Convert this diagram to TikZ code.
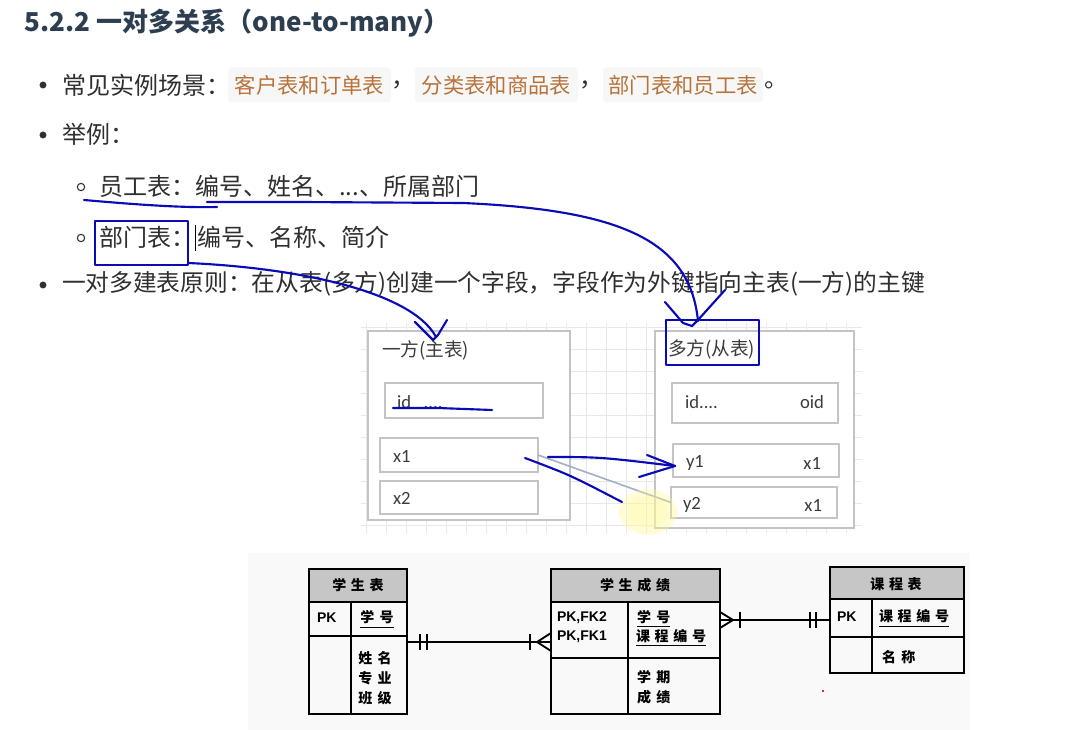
\documentclass[tikz,border=0pt]{standalone}
\usepackage{fontspec}
\setmainfont{Noto Sans CJK SC}
\newfontfamily\calfont{Carlito}
\newfontfamily\arialfont{Liberation Sans}
\usetikzlibrary{fit}
\definecolor{titlec}{HTML}{2C3E50}
\definecolor{bodyc}{HTML}{2F2F2F}
\definecolor{codec}{HTML}{B8733A}
\definecolor{codebg}{HTML}{F7F7F7}
\definecolor{penc}{HTML}{0A0AB8}
\definecolor{midc}{HTML}{3C3C3C}
\definecolor{hdr}{HTML}{C6C6C6}
\definecolor{gridc}{HTML}{E8E8E8}
\definecolor{boxc}{HTML}{C4C4C4}
\definecolor{linkc}{HTML}{9FB0C8}
\definecolor{erbg}{HTML}{F9F9F9}
\newcommand\fsz[1]{\fontsize{#1}{#1}\selectfont}
\begin{document}
\begin{tikzpicture}[x=0.75pt,y=-0.75pt,
 every node/.style={inner sep=0pt, outer sep=0pt},
 title/.style={anchor=west, font=\fsz{19.5pt}\bfseries, text=titlec},
 body/.style={anchor=west, font=\fsz{18pt}, text=bodyc},
 codebox/.style={anchor=west, font=\fsz{16pt}, text=codec, fill=codebg, rounded corners=2.5pt, minimum height=26.25pt},
 dot/.style={circle, fill=bodyc, minimum size=5.2pt},
 odot/.style={circle, draw=bodyc, line width=0.8pt, minimum size=5.5pt},
 pen/.style={draw=penc, line width=1.6pt, line cap=round, line join=round},
 obox/.style={draw=boxc, fill=white, line width=0.9pt},
 ibox/.style={draw=boxc, fill=white, line width=1.3pt},
 mcjk/.style={anchor=west, font=\fsz{14pt}, text=midc},
 mlat/.style={font=\calfont\fsz{14pt}, text=midc},
 tbl/.style={draw=black, line width=1.2pt},
 ercjk/.style={font=\fsz{10.5pt}\bfseries, text=black},
 erlat/.style={font=\arialfont\fsz{10.5pt}\bfseries, text=black, anchor=west},
 rel/.style={draw=black, line width=1.4pt},
 ul/.style={draw=black, line width=1pt}
]
\useasboundingbox[fill=white] (0,0) rectangle (1068,730);

% ---------- text part ----------
\node[title] (title) at (25,23) {5.2.2 一对多关系（one-to-many）};

\node[dot] (b1) at (43,85) {};
\node[body] (l1) at (62,85) {常见实例场景：};
\node[codebox, minimum width=122.25pt] (c1) at (228,85) {客户表和订单表};
\node[body] (k1) at (391,85) {，};
\node[codebox, minimum width=122.25pt] (c2) at (415,85) {分类表和商品表};
\node[body] (k2) at (579,85) {，};
\node[codebox, minimum width=120pt] (c3) at (603,85) {部门表和员工表};
\node[body] (k3) at (764,85) {。};

\node[dot] (b2) at (43,135) {};
\node[body] (l2) at (62,134) {举例：};

\node[odot] (o1) at (81,187) {};
\node[body] (l3) at (99,186) {员工表：编号、姓名、...、所属部门};
\node[odot] (o2) at (81,238) {};
\node[body] (l4) at (99,237) {部门表：};
\node[body] (l5) at (197,237) {编号、名称、简介};
\draw[black, line width=0.7pt] (195,225) -- (195,251);

\node[dot] (b3) at (43,285) {};
\node[body, font=\fsz{17.8pt}] (l6) at (62,284) {一对多建表原则：在从表(多方)创建一个字段，字段作为外键指向主表(一方)的主键};

% ---------- middle diagram ----------
\foreach \gx in {366,386,...,862} \draw[gridc, line width=0.5pt] (\gx,323) -- (\gx,533);
\foreach \gy in {327,349,...,533} \draw[gridc, line width=0.5pt] (361,\gy) -- (862,\gy);

\node[obox, fit={(368,331)(570,520)}] (one) {};
\node[obox, fit={(655,331)(854,528)}] (many) {};

\node[mcjk] (oneT) at (382,350) {一方(主表)};
\node[mcjk] (manyT) at (668,349) {多方(从表)};

\node[ibox, fit={(385,383)(543,418)}] (bid) {};
\node[ibox, fit={(380,438)(538,472)}] (bx1) {};
\node[ibox, fit={(380,481)(538,514)}] (bx2) {};
\node[ibox, fit={(672,383)(838,423)}] (bid2) {};
\node[ibox, fit={(673,444)(839,477)}] (by1) {};
\node[ibox, fit={(671,487)(837,518)}] (by2) {};

\node[mlat, anchor=west] (tid) at (397,402) {id\ \ \ ....};
\node[mlat, anchor=west] (tx1) at (393,456) {x1};
\node[mlat, anchor=west] (tx2) at (393,498) {x2};
\node[mlat, anchor=west] (tid2) at (685,402) {id....};
\node[mlat, anchor=east] (toid) at (824,402) {oid};
\node[mlat, anchor=west] (ty1) at (686,463) {y1};
\node[mlat, anchor=east] (tfx1) at (821,463) {x1};
\node[mlat, anchor=west] (ty2) at (683,505) {y2};
\node[mlat, anchor=east] (tfx2) at (822,505) {x1};

\draw[linkc, line width=1.2pt] (bx1.east) -- (by2.west);

\fill[yellow!45, opacity=0.35] (648,512) ellipse [x radius=22pt, y radius=17pt];
\fill[yellow!35, opacity=0.35] (648,512) ellipse [x radius=15pt, y radius=12pt];

% ---------- blue pen annotations ----------
\draw[pen] (84,200) .. controls (130,204) and (180,208) .. (217,207);
\draw[pen] (207,202) -- (300,202) -- (463,203) .. controls (620,210) and (690,240) .. (698,321);
\draw[pen] (665,302) -- (683,323) -- (692,326) -- (698,320) -- (725,290);

\draw[pen] (95,221) rectangle (188,265);
\draw[pen] (188,263) .. controls (300,268) and (412,292) .. (436,337);
\draw[pen] (415,322) -- (433,340) -- (438,335) -- (447,320);

\draw[pen] (666,320) rectangle (759,365);

\draw[pen] (393,408) -- (438,408) -- (492,410);

\draw[pen] (548,457) .. controls (600,457) .. (675,466);
\draw[pen] (647,455) -- (675,466) -- (639,477);
\draw[pen] (525,458) .. controls (570,475) .. (622,502);

% ---------- ER diagram ----------
\fill[erbg] (248,553) rectangle (970,730);

% 学生表
\fill[hdr] (309,569) rectangle (407,602);
\node[tbl, fit={(309,569)(407,714)}] (st) {};
\draw[tbl] (309,602) -- (407,602) (309,636) -- (407,636) (351,602) -- (351,714);
\node[ercjk] (sth) at (358,585) {学\hspace{3.5pt}生\hspace{3.5pt}表};
\node[erlat] (stpk) at (317,618) {PK};
\node[ercjk] (stk) at (377,617) {学\hspace{4pt}号};
\draw[ul] ([yshift=-3pt]stk.south west) -- ([yshift=-3pt]stk.south east);
\node[ercjk] (sta) at (375,658) {姓\hspace{4pt}名};
\node[ercjk] (stb) at (375,678) {专\hspace{4pt}业};
\node[ercjk] (stc) at (375,698) {班\hspace{4pt}级};

% 学生成绩
\fill[hdr] (551,569) rectangle (720,602);
\node[tbl, fit={(551,569)(720,714)}] (sc) {};
\draw[tbl] (551,602) -- (720,602) (551,658) -- (720,658) (628,602) -- (628,714);
\node[ercjk] (sch) at (635,585) {学\hspace{3.5pt}生\hspace{3.5pt}成\hspace{3.5pt}绩};
\node[erlat] (scp1) at (557,618) {PK,FK2};
\node[erlat] (scp2) at (557,637) {PK,FK1};
\node[ercjk, anchor=west] (sck1) at (637,617) {学\hspace{4pt}号};
\draw[ul] ([yshift=-2pt]sck1.south west) -- ([yshift=-2pt]sck1.south east);
\node[ercjk, anchor=west] (sck2) at (636,636) {课\hspace{3.5pt}程\hspace{3.5pt}编\hspace{3.5pt}号};
\draw[ul] ([yshift=-2pt]sck2.south west) -- ([yshift=-2pt]sck2.south east);
\node[ercjk, anchor=west] (sca) at (637,677) {学\hspace{4pt}期};
\node[ercjk, anchor=west] (scb) at (637,697) {成\hspace{4pt}绩};

% 课程表
\fill[hdr] (830,567) rectangle (964,599);
\node[tbl, fit={(830,567)(964,673)}] (ct) {};
\draw[tbl] (830,599) -- (964,599) (830,637) -- (964,637) (872,599) -- (872,673);
\node[ercjk] (cth) at (896,584) {课\hspace{3.5pt}程\hspace{3.5pt}表};
\node[erlat] (ctpk) at (837,617) {PK};
\node[ercjk, anchor=west] (ctk) at (879,616) {课\hspace{3.5pt}程\hspace{3.5pt}编\hspace{3.5pt}号};
\draw[ul] ([yshift=-3pt]ctk.south west) -- ([yshift=-3pt]ctk.south east);
\node[ercjk, anchor=west] (cta) at (882,657) {名\hspace{4pt}称};

% relationships
\coordinate (e1) at (407,642);
\coordinate (e2) at (551,642);
\draw[rel] (e1) -- (e2);
\draw[rel] (420,634) -- (420,650) (427,634) -- (427,650);
\draw[rel] (530,634) -- (530,650);
\draw[rel] (551,633) -- (537,642) -- (551,651);

\coordinate (e3) at (720,620);
\coordinate (e4) at (830,620);
\draw[rel] (e3) -- (e4);
\draw[rel] (720,612) -- (733,620) -- (720,628);
\draw[rel] (740,612) -- (740,628);
\draw[rel] (810,612) -- (810,628) (816,612) -- (816,628);

\fill[red!60!black] (823,691) circle [radius=0.9pt];
\end{tikzpicture}
\end{document}
